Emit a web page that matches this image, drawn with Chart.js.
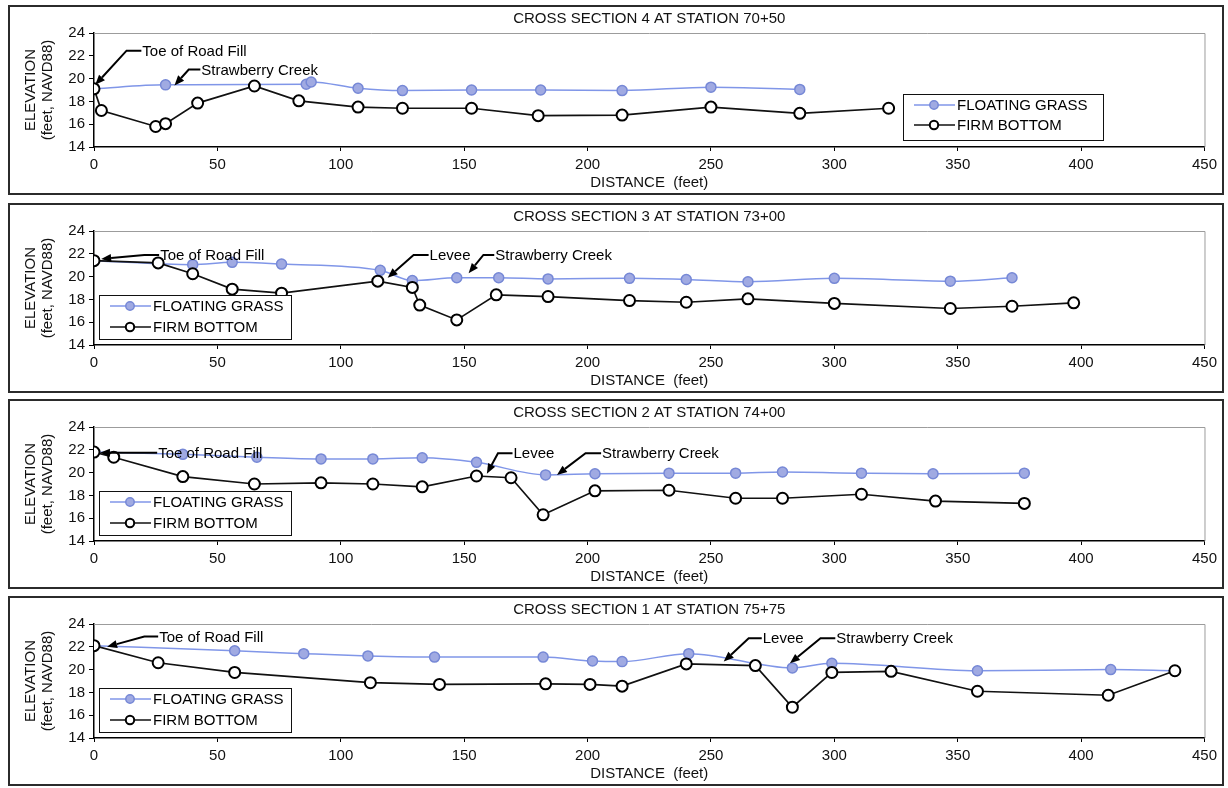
<!DOCTYPE html>
<html>
<head>
<meta charset="utf-8">
<script src="https://cdn.jsdelivr.net/npm/chart.js@4.4.0/dist/chart.umd.min.js"></script>
<style>
  body { margin: 0; background: #fff; width: 1228px; height: 788px; overflow: hidden; position: relative; }
  .panel { position: absolute; left: 8px; width: 1212px; height: 186px; border: 2px solid #2b2b2b; background: #fff; }
  canvas { display: block; }
</style>
</head>
<body>
<div class="panel" style="top:5px"><canvas id="cs4" width="1212" height="186"></canvas></div>
<div class="panel" style="top:203px"><canvas id="cs3" width="1212" height="186"></canvas></div>
<div class="panel" style="top:399px"><canvas id="cs2" width="1212" height="186"></canvas></div>
<div class="panel" style="top:596px"><canvas id="cs1" width="1212" height="186"></canvas></div>
<script>
// axis ticks
const distanceTicks = [0, 50, 100, 150, 200, 250, 300, 350, 400, 450];
const elevationTicks = [14, 16, 18, 20, 22, 24];

// Cross section 4 - station 70+50
const cs4GrassX = [0, 29, 86, 88, 107, 125, 153, 181, 214, 250, 286];
const cs4GrassY = [19.1, 19.45, 19.5, 19.7, 19.15, 18.95, 19.0, 19.0, 18.95, 19.25, 19.05];
const cs4FirmX = [0, 3, 25, 29, 42, 65, 83, 107, 125, 153, 180, 214, 250, 286, 322];
const cs4FirmY = [19.1, 17.2, 15.8, 16.05, 17.85, 19.35, 18.05, 17.5, 17.4, 17.4, 16.75, 16.8, 17.5, 16.95, 17.4];

// Cross section 3 - station 73+00
const cs3GrassX = [0, 40, 56, 76, 116, 129, 147, 164, 184, 217, 240, 265, 300, 347, 372];
const cs3GrassY = [21.4, 21.05, 21.25, 21.1, 20.55, 19.65, 19.9, 19.9, 19.8, 19.85, 19.75, 19.55, 19.85, 19.6, 19.9];
const cs3FirmX = [0, 26, 40, 56, 76, 115, 129, 132, 147, 163, 184, 217, 240, 265, 300, 347, 372, 397];
const cs3FirmY = [21.4, 21.2, 20.25, 18.9, 18.55, 19.6, 19.05, 17.5, 16.2, 18.4, 18.25, 17.9, 17.75, 18.05, 17.65, 17.2, 17.4, 17.7];

// Cross section 2 - station 74+00
const cs2GrassX = [0, 36, 66, 92, 113, 133, 155, 183, 203, 233, 260, 279, 311, 340, 377];
const cs2GrassY = [21.8, 21.6, 21.35, 21.2, 21.2, 21.3, 20.9, 19.8, 19.9, 19.95, 19.95, 20.05, 19.95, 19.9, 19.95];
const cs2FirmX = [0, 8, 36, 65, 92, 113, 133, 155, 169, 182, 203, 233, 260, 279, 311, 341, 377];
const cs2FirmY = [21.8, 21.35, 19.65, 19.0, 19.1, 19.0, 18.75, 19.7, 19.55, 16.3, 18.4, 18.45, 17.75, 17.75, 18.1, 17.5, 17.3];

// Cross section 1 - station 75+75
const cs1GrassX = [0, 57, 85, 111, 138, 182, 202, 214, 241, 283, 299, 358, 412, 438];
const cs1GrassY = [22.1, 21.65, 21.4, 21.2, 21.1, 21.1, 20.75, 20.7, 21.4, 20.15, 20.55, 19.9, 20.0, 19.9];
const cs1FirmX = [0, 26, 57, 112, 140, 183, 201, 214, 240, 268, 283, 299, 323, 358, 411, 438];
const cs1FirmY = [22.1, 20.6, 19.75, 18.85, 18.7, 18.75, 18.7, 18.55, 20.5, 20.35, 16.7, 19.75, 19.85, 18.1, 17.75, 19.9];

const seriesNames = ['FLOATING GRASS', 'FIRM BOTTOM'];

const FONT = '"Liberation Sans", Arial, sans-serif';
Chart.defaults.font.family = FONT;
Chart.defaults.font.size = 15;
Chart.defaults.color = '#111';

const toPoints = (xs, ys) => xs.map((v, i) => ({ x: v, y: ys[i] }));

// grey frame on top and right of the plot
const frame = {
  id: 'frame',
  beforeDatasetsDraw(chart) {
    const { ctx, chartArea: a } = chart;
    ctx.save();
    ctx.strokeStyle = '#9c9c9c';
    ctx.lineWidth = 1;
    ctx.beginPath();
    ctx.moveTo(a.left, a.top + 0.5);
    ctx.lineTo(a.right + 0.5, a.top + 0.5);
    ctx.lineTo(a.right + 0.5, a.bottom);
    ctx.stroke();
    ctx.restore();
  }
};

// callout labels with arrows
const callouts = {
  id: 'callouts',
  afterDatasetsDraw(chart, args, opts) {
    const { ctx, scales: { x, y } } = chart;
    ctx.save();
    ctx.font = '15px ' + FONT;
    ctx.textBaseline = 'middle';
    ctx.fillStyle = '#000';
    ctx.strokeStyle = '#000';
    ctx.lineWidth = 2;
    (opts.items || []).forEach(c => {
      const tx = x.getPixelForValue(c.x), ty = y.getPixelForValue(c.y);
      const ex = x.getPixelForValue(c.elbow);
      const px = x.getPixelForValue(c.tip[0]), py = y.getPixelForValue(c.tip[1]);
      const ang = Math.atan2(py - ty, px - ex);
      const hl = 10, hw = 4;
      const bx = px - Math.cos(ang) * hl, by = py - Math.sin(ang) * hl;
      ctx.beginPath();
      ctx.moveTo(tx - 1, ty);
      ctx.lineTo(ex, ty);
      ctx.lineTo(bx, by);
      ctx.stroke();
      ctx.beginPath();
      ctx.moveTo(px, py);
      ctx.lineTo(bx + Math.sin(ang) * hw, by - Math.cos(ang) * hw);
      ctx.lineTo(bx - Math.sin(ang) * hw, by + Math.cos(ang) * hw);
      ctx.closePath();
      ctx.fill();
      ctx.fillText(c.text, tx, ty + 1);
    });
    ctx.restore();
  }
};

// boxed legend with line + marker samples
const boxLegend = {
  id: 'boxLegend',
  afterDraw(chart, args, o) {
    const { ctx, chartArea: a } = chart;
    const bx = Math.round(a.left + o.x), by = Math.round(a.top + o.y);
    ctx.save();
    ctx.fillStyle = '#fff';
    ctx.fillRect(bx, by, o.w, o.h);
    ctx.strokeStyle = '#111';
    ctx.lineWidth = 1;
    ctx.strokeRect(bx + 0.5, by + 0.5, o.w, o.h);
    ctx.font = '15px ' + FONT;
    ctx.textBaseline = 'middle';
    chart.data.datasets.forEach((ds, i) => {
      const ry = by + o.rows[i];
      ctx.strokeStyle = ds.borderColor;
      ctx.lineWidth = ds.borderWidth;
      ctx.beginPath();
      ctx.moveTo(bx + 11, ry);
      ctx.lineTo(bx + 52, ry);
      ctx.stroke();
      ctx.beginPath();
      ctx.arc(bx + 31, ry, 4.2, 0, Math.PI * 2);
      ctx.fillStyle = ds.pointBackgroundColor;
      ctx.fill();
      ctx.lineWidth = ds.pointBorderWidth;
      ctx.strokeStyle = ds.pointBorderColor;
      ctx.stroke();
      ctx.fillStyle = '#000';
      ctx.fillText(ds.label, bx + 54, ry + 1);
    });
    ctx.restore();
  }
};

function section(id, title, grassX, grassY, firmX, firmY, notes, legendBox) {
  new Chart(document.getElementById(id), {
    type: 'line',
    data: {
      datasets: [{
        label: seriesNames[0],
        data: toPoints(grassX, grassY),
        borderColor: 'rgb(128, 150, 232)',
        borderWidth: 1.5,
        pointRadius: 5,
        pointBackgroundColor: 'rgb(160, 170, 226)',
        pointBorderColor: 'rgb(118, 136, 214)',
        pointBorderWidth: 1.5,
        cubicInterpolationMode: 'monotone',
        order: 1
      }, {
        label: seriesNames[1],
        data: toPoints(firmX, firmY),
        borderColor: '#111',
        borderWidth: 1.7,
        pointRadius: 5.5,
        pointBackgroundColor: '#fff',
        pointBorderColor: '#000',
        pointBorderWidth: 2,
        tension: 0,
        order: 0
      }]
    },
    options: {
      responsive: false,
      animation: false,
      devicePixelRatio: 1,
      layout: { padding: { left: 0, right: 16, top: 0, bottom: 0 } },
      plugins: {
        legend: { display: false },
        tooltip: { enabled: false },
        title: {
          display: true,
          text: title,
          fullSize: false,
          font: { size: 15, weight: 'normal' },
          color: '#111',
          padding: { top: 3, bottom: 5 }
        },
        callouts: { items: notes },
        boxLegend: legendBox
      },
      scales: {
        x: {
          type: 'linear',
          min: 0,
          max: 450,
          afterBuildTicks: s => { s.ticks = distanceTicks.map(v => ({ value: v })); },
          afterFit: s => { s.height = 46; },
          ticks: { padding: 5, maxRotation: 0, color: '#111' },
          grid: { drawOnChartArea: false, tickLength: 4, color: '#000' },
          border: { color: '#000', width: 1.5 },
          title: { display: true, text: 'DISTANCE  (feet)', color: '#111', padding: { top: 0, bottom: 1 } }
        },
        y: {
          min: 14,
          max: 24,
          afterBuildTicks: s => { s.ticks = elevationTicks.map(v => ({ value: v })); },
          afterFit: s => { s.width = 84; },
          ticks: { padding: 4, color: '#111' },
          grid: { drawOnChartArea: false, tickLength: 5, color: '#000' },
          border: { color: '#000', width: 1.5 },
          title: {
            display: true,
            text: ['ELEVATION', '(feet, NAVD88)'],
            color: '#111',
            font: { size: 15, lineHeight: 1.1 },
            padding: { top: 13, bottom: 0 }
          }
        }
      }
    },
    plugins: [frame, callouts, boxLegend]
  });
}

const leftLegend = { x: 5, y: 64, w: 192, h: 44, rows: [11, 32] };

section('cs4', 'CROSS SECTION 4 AT STATION 70+50', cs4GrassX, cs4GrassY, cs4FirmX, cs4FirmY, [
  { text: 'Toe of Road Fill', x: 19.6, y: 22.45, elbow: 13.2, tip: [0.5, 19.45] },
  { text: 'Strawberry Creek', x: 43.5, y: 20.8, elbow: 38.4, tip: [32.6, 19.4] }
], { x: 809, y: 61, w: 200, h: 46, rows: [11, 31] });

section('cs3', 'CROSS SECTION 3 AT STATION 73+00', cs3GrassX, cs3GrassY, cs3FirmX, cs3FirmY, [
  { text: 'Toe of Road Fill', x: 26.8, y: 21.9, elbow: 20.4, tip: [2.9, 21.55] },
  { text: 'Levee', x: 136, y: 21.9, elbow: 129.5, tip: [119, 19.9] },
  { text: 'Strawberry Creek', x: 162.6, y: 21.9, elbow: 157.8, tip: [151.8, 20.3] }
], leftLegend);

section('cs2', 'CROSS SECTION 2 AT STATION 74+00', cs2GrassX, cs2GrassY, cs2FirmX, cs2FirmY, [
  { text: 'Toe of Road Fill', x: 26, y: 21.75, elbow: 19.6, tip: [2.4, 21.75] },
  { text: 'Levee', x: 170, y: 21.7, elbow: 163.7, tip: [159.2, 19.9] },
  { text: 'Strawberry Creek', x: 205.9, y: 21.7, elbow: 199.2, tip: [187.6, 19.8] }
], leftLegend);

section('cs1', 'CROSS SECTION 1 AT STATION 75+75', cs1GrassX, cs1GrassY, cs1FirmX, cs1FirmY, [
  { text: 'Toe of Road Fill', x: 26.4, y: 22.9, elbow: 20.4, tip: [5.3, 22.0] },
  { text: 'Levee', x: 271, y: 22.75, elbow: 265.3, tip: [255.2, 20.7] },
  { text: 'Strawberry Creek', x: 300.8, y: 22.75, elbow: 294.4, tip: [282, 20.55] }
], leftLegend);
</script>
</body>
</html>
